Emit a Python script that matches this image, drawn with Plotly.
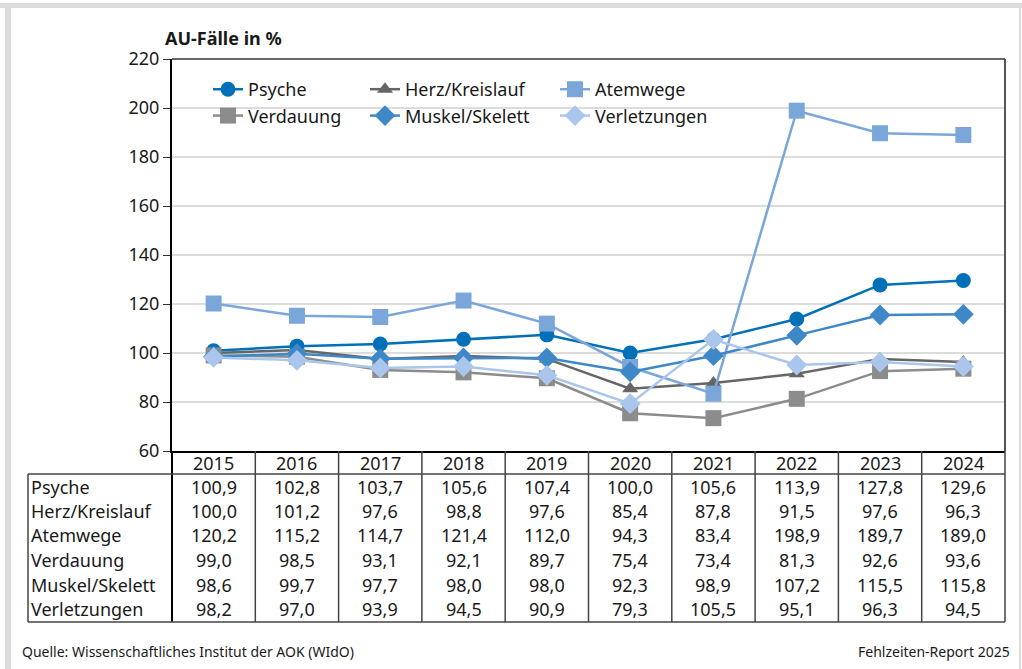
import plotly.graph_objects as go

YEARS = [2015, 2016, 2017, 2018, 2019, 2020, 2021, 2022, 2023, 2024]
SERIES = ["Psyche", "Herz/Kreislauf", "Atemwege", "Verdauung", "Muskel/Skelett", "Verletzungen"]

psyche = [100.9, 102.8, 103.7, 105.6, 107.4, 100.0, 105.6, 113.9, 127.8, 129.6]
herz_kreislauf = [100.0, 101.2, 97.6, 98.8, 97.6, 85.4, 87.8, 91.5, 97.6, 96.3]
atemwege = [120.2, 115.2, 114.7, 121.4, 112.0, 94.3, 83.4, 198.9, 189.7, 189.0]
verdauung = [99.0, 98.5, 93.1, 92.1, 89.7, 75.4, 73.4, 81.3, 92.6, 93.6]
muskel_skelett = [98.6, 99.7, 97.7, 98.0, 98.0, 92.3, 98.9, 107.2, 115.5, 115.8]
verletzungen = [98.2, 97.0, 93.9, 94.5, 90.9, 79.3, 105.5, 95.1, 96.3, 94.5]

VALUES = [psyche, herz_kreislauf, atemwege, verdauung, muskel_skelett, verletzungen]

Y_TICKS = [60, 80, 100, 120, 140, 160, 180, 200, 220]

COLORS = ["#0070b8", "#666666", "#7ba6da", "#8c8c8c", "#3f88c8", "#aac6ec"]
SYMBOLS = ["circle", "triangle-up", "square", "square", "diamond", "diamond"]
SIZES = [15, 14, 16, 16, 16, 16]
LEGENDS = ["legend", "legend2", "legend3", "legend", "legend2", "legend3"]

FONT = "Noto Sans"

# plot area in pixels
L, R, T, B = 172, 1005, 59, 451
W, H = 1022, 669


def px(p):
    return (p - L) / (R - L)


def py(p):
    return (B - p) / (B - T)


fig = go.Figure()
for name, vals, col, sym, size, leg in zip(SERIES, VALUES, COLORS, SYMBOLS, SIZES, LEGENDS):
    fig.add_trace(go.Scatter(
        x=YEARS, y=vals, name=name, mode="lines+markers",
        line=dict(color=col, width=2.5),
        marker=dict(color=col, symbol=sym, size=size, line=dict(width=0)),
        legend=leg,
    ))

shapes = []
line_col = "#444444"
# white box behind legend
shapes.append(dict(type="rect", xref="paper", yref="paper", x0=px(186), x1=px(719),
                   y0=py(130), y1=py(70), fillcolor="white", line=dict(width=0), layer="between"))
# top and right borders of the plot
shapes.append(dict(type="line", xref="paper", yref="paper", x0=0, x1=px(R), y0=1, y1=1,
                   line=dict(color="#333333", width=1.5)))
shapes.append(dict(type="line", xref="paper", yref="paper", x0=1, x1=1, y0=0, y1=1,
                   line=dict(color="#555555", width=2)))
# table grid
col_w = (R - L) / len(YEARS)
for i in range(1, len(YEARS) + 1):
    xx = px(L + i * col_w)
    shapes.append(dict(type="line", xref="paper", yref="paper", x0=xx, x1=xx,
                       y0=py(451), y1=py(622), line=dict(color=line_col, width=1.5)))
shapes.append(dict(type="line", xref="paper", yref="paper", x0=0, x1=0,
                   y0=py(451), y1=py(622), line=dict(color="black", width=2)))
shapes.append(dict(type="line", xref="paper", yref="paper", x0=px(28), x1=px(28),
                   y0=py(474), y1=py(622), line=dict(color=line_col, width=1.5)))
for yy in (474, 622):
    shapes.append(dict(type="line", xref="paper", yref="paper", x0=px(28), x1=1,
                       y0=py(yy), y1=py(yy), line=dict(color=line_col, width=1.5)))
# outer frame
shapes.append(dict(type="rect", xref="paper", yref="paper", x0=px(0), x1=px(W),
                   y0=py(8), y1=py(3), fillcolor="#dcdcdc", line=dict(width=0)))
shapes.append(dict(type="rect", xref="paper", yref="paper", x0=px(5), x1=px(11),
                   y0=py(W), y1=py(3), fillcolor="#dcdcdc", line=dict(width=0)))
shapes.append(dict(type="rect", xref="paper", yref="paper", x0=px(1019), x1=px(1021),
                   y0=py(W), y1=py(3), fillcolor="#dcdcdc", line=dict(width=0)))

annotations = []
txt_font = dict(family=FONT, size=18, color="#1a1a1a")
# header row
for yr in YEARS:
    annotations.append(dict(x=yr, y=py(463), xref="x", yref="paper", text=str(yr),
                            showarrow=False, font=txt_font, xanchor="center", yanchor="middle"))
row_y = [487, 511, 535, 560, 585, 609]
for name, vals, ry in zip(SERIES, VALUES, row_y):
    annotations.append(dict(x=px(29), y=py(ry), xref="paper", yref="paper", text=name,
                            showarrow=False, font=txt_font, xanchor="left", yanchor="middle"))
    for yr, v in zip(YEARS, vals):
        annotations.append(dict(x=yr, y=py(ry), xref="x", yref="paper",
                                text=f"{v:.1f}".replace(".", ","),
                                showarrow=False, font=txt_font, xanchor="center", yanchor="middle"))

annotations.append(dict(x=px(163), y=py(38), xref="paper", yref="paper", text="<b>AU-Fälle in %</b>",
                        showarrow=False, font=dict(family=FONT, size=18, color="#1a1a1a"),
                        xanchor="left", yanchor="middle"))
annotations.append(dict(x=px(20), y=py(651), xref="paper", yref="paper",
                        text="Quelle: Wissenschaftliches Institut der AOK (WIdO)",
                        showarrow=False, font=dict(family=FONT, size=14, color="#1a1a1a"),
                        xanchor="left", yanchor="middle"))
annotations.append(dict(x=px(1012), y=py(651), xref="paper", yref="paper",
                        text="Fehlzeiten-Report 2025",
                        showarrow=False, font=dict(family=FONT, size=14, color="#1a1a1a"),
                        xanchor="right", yanchor="middle"))

leg_common = dict(orientation="v", bgcolor="rgba(0,0,0,0)", font=dict(family=FONT, size=18, color="#1a1a1a"),
                  yanchor="top", y=py(71), xanchor="left", tracegroupgap=0, itemwidth=30)

fig.update_layout(
    width=W, height=H,
    margin=dict(l=L, r=W - R, t=T, b=H - B),
    paper_bgcolor="white", plot_bgcolor="white",
    font=dict(family=FONT, size=18, color="#1a1a1a"),
    showlegend=True,
    legend=dict(leg_common, x=px(208)),
    legend2=dict(leg_common, x=px(365)),
    legend3=dict(leg_common, x=px(555)),
    xaxis=dict(range=[2014.5, 2024.5], showticklabels=False, ticks="", showgrid=False,
               zeroline=False, showline=True, linecolor="black", linewidth=2),
    yaxis=dict(range=[60, 220], tickvals=Y_TICKS, ticks="outside", ticklen=7, tickcolor="#333333",
               tickwidth=1, showgrid=True, gridcolor="#dcdcdc", gridwidth=1.5, zeroline=False,
               showline=True, linecolor="black", linewidth=2,
               tickfont=dict(family=FONT, size=18, color="#1a1a1a")),
    shapes=shapes,
    annotations=annotations,
)

# the page's default body margin would shift the chart by 8px
fig.write_html("out.html", config={"displayModeBar": False},
               post_script="document.body.style.margin='0';")
